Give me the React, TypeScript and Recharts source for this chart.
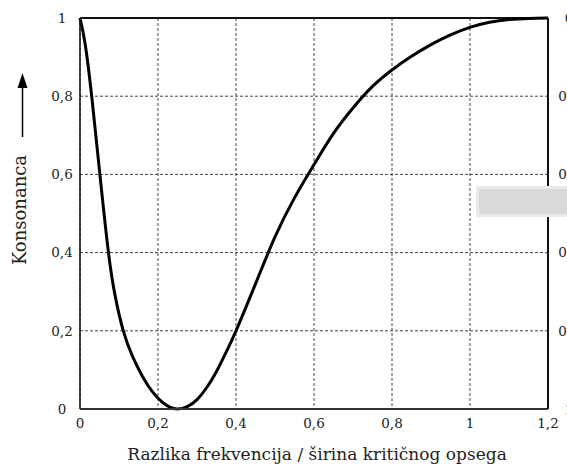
import React from "react";
import {
  LineChart,
  Line,
  XAxis,
  YAxis,
  CartesianGrid,
  ReferenceLine,
} from "recharts";

const freqDiff = [0, 0.013, 0.03, 0.051, 0.073, 0.09, 0.111, 0.135, 0.16, 0.185, 0.21, 0.23, 0.25, 0.275, 0.3, 0.325, 0.35, 0.375, 0.4, 0.45, 0.5, 0.55, 0.6, 0.65, 0.7, 0.75, 0.8, 0.85, 0.9, 0.95, 1.0, 1.05, 1.1, 1.15, 1.2];
const consonance = [1, 0.935, 0.8, 0.6, 0.4, 0.29, 0.2, 0.134, 0.084, 0.045, 0.018, 0.005, 0, 0.006, 0.024, 0.055, 0.096, 0.146, 0.2, 0.32, 0.44, 0.54, 0.625, 0.705, 0.77, 0.825, 0.867, 0.902, 0.932, 0.957, 0.976, 0.989, 0.996, 0.999, 1.0];
const xTicks = [0, 0.2, 0.4, 0.6, 0.8, 1, 1.2];
const yTicks = [0, 0.2, 0.4, 0.6, 0.8, 1];
const xLabel = "Razlika frekvencija / širina kritičnog opsega";
const yLabel = "Konsonanca";

const data = freqDiff.map((x, i) => ({ x, y: consonance[i] }));

const FONT = "DejaVu Serif";
const fmt = (v: number) => String(Math.round(v * 10) / 10).replace(".", ",");

const XTick = (props: any) => {
  const { x, y, payload } = props;
  return (
    <text x={x} y={y + 19} textAnchor="middle" fontFamily={FONT} fontSize={13.5} fill="#222">
      {fmt(payload.value)}
    </text>
  );
};

const YTickLeft = (props: any) => {
  const { x, y, payload } = props;
  return (
    <text x={x - 18} y={y} dy="0.35em" textAnchor="middle" fontFamily={FONT} fontSize={13.5} fill="#222">
      {fmt(payload.value)}
    </text>
  );
};

const YTickRight = (props: any) => {
  const { y, payload } = props;
  return (
    <text x={569} y={y} dy="0.35em" textAnchor="middle" fontFamily={FONT} fontSize={13.5} fill="#222">
      {fmt(1 - payload.value)}
    </text>
  );
};

export default function App() {
  return (
    <div style={{ position: "relative", width: 567, height: 465, background: "#fff", overflow: "hidden" }}>
      <style>{"body{margin:0}"}</style>
      <LineChart
        width={567}
        height={465}
        data={data}
        margin={{ top: 18, right: 0, bottom: 0, left: 0 }}
      >
        <CartesianGrid yAxisId="l" stroke="#444" strokeDasharray="3 2" strokeWidth={1} />
        <XAxis
          dataKey="x"
          type="number"
          domain={[0, 1.2]}
          ticks={xTicks}
          height={56}
          tickLine={false}
          tickSize={0}
          tickMargin={0}
          axisLine={{ stroke: "#333", strokeWidth: 2 }}
          tick={<XTick />}
          label={{ value: xLabel, position: "insideBottom", offset: 5, fontFamily: FONT, fontSize: 17, fill: "#222", dx: 3 }}
        />
        <YAxis
          yAxisId="l"
          type="number"
          domain={[0, 1]}
          ticks={yTicks}
          width={80}
          tickLine={false}
          tickSize={0}
          tickMargin={0}
          axisLine={{ stroke: "#111", strokeWidth: 1.5 }}
          tick={<YTickLeft />}
        />
        <YAxis
          yAxisId="r"
          orientation="right"
          type="number"
          domain={[0, 1]}
          ticks={yTicks}
          width={19}
          tickLine={false}
          tickSize={0}
          tickMargin={0}
          allowDataOverflow
          axisLine={{ stroke: "#111", strokeWidth: 2 }}
          tick={<YTickRight />}
        />
        <ReferenceLine yAxisId="l" y={1} stroke="#111" strokeWidth={2} />
        <Line
          yAxisId="r"
          dataKey="y"
          type="natural"
          stroke="none"
          dot={false}
          isAnimationActive={false}
        />
        <Line
          yAxisId="l"
          dataKey="y"
          type="natural"
          stroke="#000"
          strokeWidth={3}
          dot={false}
          isAnimationActive={false}
        />
      </LineChart>
      <svg width={567} height={465} style={{ position: "absolute", left: 0, top: 0, pointerEvents: "none" }}>
        <text
          x={0}
          y={0}
          transform="translate(26 210) rotate(-90)"
          textAnchor="middle"
          fontFamily={FONT}
          fontSize={18}
          fill="#222"
        >
          {yLabel}
        </text>
        <line x1={22.5} y1={86} x2={22.5} y2={137} stroke="#000" strokeWidth={1.5} />
        <polygon points="22.5,73 17.5,88 27.5,88" fill="#000" />
        <rect x={476} y={186} width={100} height={31} fill="#ebebeb" />
        <rect x={479} y={189} width={100} height={25} fill="#d9d9d9" />
      </svg>
    </div>
  );
}
